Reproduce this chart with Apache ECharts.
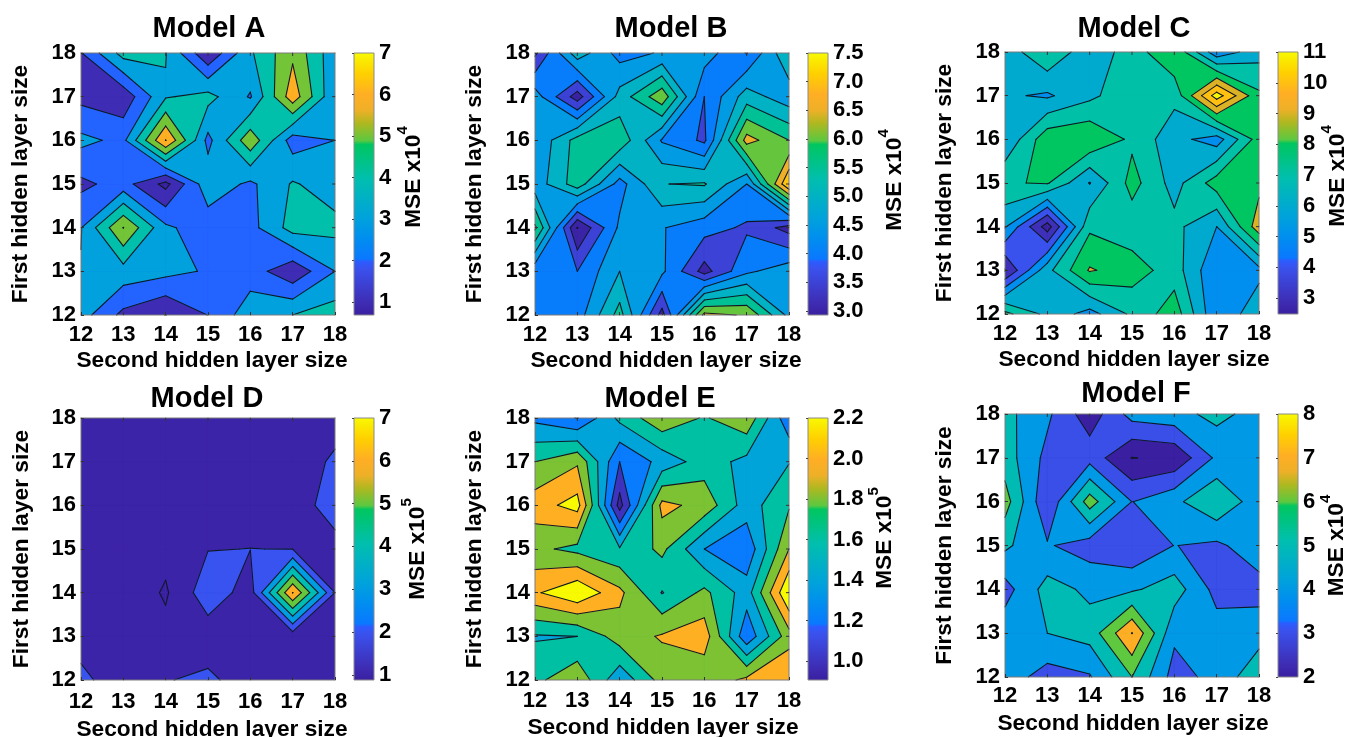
<!DOCTYPE html>
<html>
<head>
<meta charset="utf-8">
<style>html,body{margin:0;padding:0;background:#fff}#chart{width:1349px;height:737px}</style>
<script src="https://cdn.jsdelivr.net/npm/echarts@6/dist/echarts.min.js"></script>
</head>
<body>
<div id="chart"></div>
<script>
// Hidden layer sizes, grid axes of every panel
const sizes = [12, 13, 14, 15, 16, 17, 18];

// MSE values: rows top-down (first layer 18..12), columns second layer 12..18
const modelA = [
  [1.95, 4.4, 4.05, 1.1, 3.85, 5.8, 3.3],
  [1.7, 1.3, 3.9, 4.35, 2.9, 6.6, 3.1],
  [3.25, 2.75, 7.02, 2.7, 5.7, 2.5, 3.0],
  [1.77, 2.4, 0.7, 3.65, 2.8, 4.1, 3.5],
  [2.95, 6.02, 3.2, 2.4, 2.65, 4.4, 4.3],
  [3.05, 3.6, 3.3, 2.9, 2.5, 1.25, 3.0],
  [3.43, 1.73, 0.98, 2.02, 3.6, 4.0, 4.5]
];
const modelB = [
  [3.4, 5.3, 4.3, 4.55, 4.75, 3.97, 5.45],
  [4.75, 3.25, 5.2, 6.35, 4.0, 5.25, 4.7],
  [4.55, 5.7, 5.85, 4.45, 3.9, 6.7, 6.0],
  [4.7, 5.77, 4.3, 5.49, 5.55, 4.5, 7.5],
  [6.1, 2.98, 4.6, 4.53, 4.2, 3.92, 3.3],
  [4.15, 4.0, 5.0, 4.6, 3.3, 4.4, 4.8],
  [4.2, 4.25, 5.7, 3.3, 6.65, 6.45, 4.85]
];
const modelC = [
  [6.4, 7.9, 6.3, 7.5, 8.9, 5.3, 6.6],
  [6.15, 5.85, 6.75, 7.75, 7.3, 11.5, 8.2],
  [6.1, 8.7, 8.9, 7.8, 6.35, 5.5, 8.5],
  [7.9, 8.1, 5.95, 8.38, 6.6, 8.5, 8.7],
  [6.1, 2.5, 7.8, 7.4, 7.3, 6.0, 9.6],
  [2.9, 6.7, 9.1, 8.5, 7.5, 5.1, 5.7],
  [8.3, 6.7, 5.6, 7.2, 8.6, 5.1, 6.7]
];
const modelD = [
  [1.3, 1.3, 1.4, 1.2, 1.3, 1.3, 1.5],
  [1.4, 1.2, 1.3, 1.3, 1.2, 1.3, 2.2],
  [1.3, 1.4, 1.2, 1.3, 1.5, 1.5, 2.45],
  [1.2, 1.3, 1.3, 1.97, 2.01, 1.98, 1.65],
  [1.3, 1.7, 0.88, 2.6, 1.55, 7.02, 2.0],
  [1.5, 1.4, 1.3, 1.45, 1.4, 1.4, 1.6],
  [2.3, 1.3, 1.95, 2.2, 1.5, 1.3, 1.4]
];
const modelE = [
  [1.35, 1.19, 1.65, 1.95, 1.78, 1.95, 1.25],
  [1.8, 1.97, 1.2, 1.47, 1.7, 1.54, 1.59],
  [2.11, 2.28, 0.92, 2.06, 1.93, 1.5, 1.78],
  [1.85, 1.74, 1.62, 1.85, 1.4, 1.25, 2.0],
  [2.17, 2.38, 2.05, 1.59, 1.85, 1.5, 2.4],
  [1.58, 1.6, 1.9, 2.02, 2.11, 1.25, 1.92],
  [1.75, 1.95, 1.45, 1.88, 1.85, 2.05, 2.19]
];
const modelF = [
  [5.3, 4.2, 2.4, 4.4, 4.65, 5.3, 4.6],
  [5.5, 3.7, 3.6, 1.97, 2.2, 4.2, 4.4],
  [6.45, 3.1, 6.5, 3.98, 4.75, 5.9, 4.4],
  [5.2, 4.1, 3.5, 3.1, 4.02, 3.8, 4.6],
  [3.6, 5.4, 4.8, 4.85, 5.5, 3.65, 3.6],
  [4.6, 5.0, 5.4, 8.02, 4.2, 4.45, 4.6],
  [4.55, 3.55, 3.9, 6.0, 3.6, 4.33, 5.7]
];

// Contour levels / colour-bar tick labels of every panel
const levelsA = [1, 2, 3, 4, 5, 6, 7];
const levelsB = [3, 3.5, 4, 4.5, 5, 5.5, 6, 6.5, 7, 7.5];
const levelsC = [3, 4, 5, 6, 7, 8, 9, 10, 11];
const levelsD = [1, 2, 3, 4, 5, 6, 7];
const levelsE = [1, 1.2, 1.4, 1.6, 1.8, 2, 2.2];
const levelsF = [2, 3, 4, 5, 6, 7, 8];

// Colour map as [position, colour]
const colormap = [
  [0, '#3a1fa0'], [0.05, '#3e2db4'], [0.18, '#3a52ee'], [0.205, '#2c5cff'], [0.215, '#0a78ff'],
  [0.30, '#0090ee'], [0.37, '#00a2dc'], [0.52, '#00bfae'], [0.65, '#00c660'], [0.665, '#5cc840'],
  [0.73, '#aeb820'], [0.78, '#eeb028'], [0.84, '#ffae24'], [0.92, '#ffd000'], [1, '#f8fa00']
];

const panels = [
  {title: 'Model A', z: modelA, levels: levelsA, cmin: 0.69, cmax: 7, exp: '4', dec: 0,
   x: 81, y: 53, h: 262, barX: 354, tx: 209, ty: 29, xnGap: 34, xnShift: 8, xMargin: 9, ynGap: 49, mGap: 21, mShift: 14},
  {title: 'Model B', z: modelB, levels: levelsB, cmin: 2.93, cmax: 7.5, exp: '4', dec: 1,
   x: 535, y: 53, h: 262, barX: 808, tx: 671, ty: 29, xnGap: 34, xnShift: 8, xMargin: 9, ynGap: 49, mGap: 48, mShift: 8},
  {title: 'Model C', z: modelC, levels: levelsC, cmin: 2.48, cmax: 11, exp: '4', dec: 0,
   x: 1005, y: 52, h: 262, barX: 1278, tx: 1134, ty: 29, xnGap: 34, xnShift: 4, xMargin: 9, ynGap: 49, mGap: 21, mShift: 14},
  {title: 'Model D', z: modelD, levels: levelsD, cmin: 0.88, cmax: 7, exp: '5', dec: 0,
   x: 81, y: 418, h: 262, barX: 354, tx: 207, ty: 399, xnGap: 38, xnShift: 8, xMargin: 11, ynGap: 48, mGap: 25, mShift: 0},
  {title: 'Model E', z: modelE, levels: levelsE, cmin: 0.906, cmax: 2.2, exp: '5', dec: 1,
   x: 535, y: 418, h: 262, barX: 808, tx: 660, ty: 399, xnGap: 36, xnShift: 2, xMargin: 10, ynGap: 49, mGap: 38, mShift: 22},
  {title: 'Model F', z: modelF, levels: levelsF, cmin: 2, cmax: 8, exp: '4', dec: 0,
   x: 1005, y: 414, h: 263, barX: 1278, tx: 1136, ty: 394, xnGap: 35, xnShift: 2, xMargin: 8, ynGap: 49, mGap: 20, mShift: 0}
];

const FONT = '"Liberation Sans", Arial, sans-serif';
const PW = 254, BW = 20;

function hex(c) { return [1, 3, 5].map(i => parseInt(c.substr(i, 2), 16)); }
function cmap(t) {
  t = Math.max(0, Math.min(1, t));
  for (let i = 1; i < colormap.length; i++) {
    if (t <= colormap[i][0]) {
      const [a, ca] = colormap[i - 1], [b, cb] = colormap[i];
      const f = (t - a) / (b - a), A = hex(ca), B = hex(cb);
      return 'rgb(' + A.map((v, k) => Math.round(v + (B[k] - v) * f)).join(',') + ')';
    }
  }
  return colormap[colormap.length - 1][1];
}

// Cut a grid cell at level L; saddles are resolved with the cell-centre mean
function cutCell(zz, i, j, L) {
  const c = [[i, j], [i + 1, j], [i + 1, j + 1], [i, j + 1]];
  const v = c.map(p => zz[18 - p[1]][p[0] - 12]);
  const hi = v.map(x => x >= L);
  const q = [0, 1, 2, 3].map(k => {
    const m = (k + 1) % 4;
    if (hi[k] === hi[m]) return null;
    const f = (L - v[k]) / (v[m] - v[k]);
    return [c[k][0] + (c[m][0] - c[k][0]) * f, c[k][1] + (c[m][1] - c[k][1]) * f];
  });
  const polys = [], segs = [];
  const saddle = hi[0] === hi[2] && hi[1] === hi[3] && hi[0] !== hi[1];
  if (saddle && (v[0] + v[1] + v[2] + v[3]) / 4 < L) {
    [0, 1, 2, 3].filter(k => hi[k]).forEach(k => {
      const a = q[(k + 3) % 4], b = q[k];
      polys.push([a, c[k], b]);
      segs.push([a, b]);
    });
    return {polys, segs};
  }
  const poly = [];
  const seq = [];
  for (let k = 0; k < 4; k++) {
    if (hi[k]) poly.push(c[k]);
    if (q[k]) { poly.push(q[k]); seq.push({p: q[k], down: hi[k]}); }
  }
  if (poly.length >= 3) polys.push(poly);
  seq.forEach((s, k) => { if (s.down) segs.push([s.p, seq[(k + 1) % seq.length].p]); });
  return {polys, segs};
}

const cells = [];
for (let j = 12; j < 18; j++) for (let i = 12; i < 18; i++) cells.push([i, j]);

const grid = [], xAxis = [], yAxis = [], series = [], title = [];

panels.forEach((P, n) => {
  const gi = n * 2, bi = gi + 1;
  const norm = v => (v - P.cmin) / (P.cmax - P.cmin);
  title.push({text: P.title, left: P.tx, top: P.ty, padding: 0, textAlign: 'center', textVerticalAlign: 'middle',
    textStyle: {fontFamily: FONT, fontWeight: 'bold', fontSize: 29, color: '#000'}});
  grid.push({left: P.x, top: P.y, width: PW, height: P.h, show: false, outerBoundsMode: 'none'});
  grid.push({left: P.barX, top: P.y, width: BW, height: P.h, show: false, outerBoundsMode: 'none'});
  const tick = {show: true, inside: true, length: 3, lineStyle: {color: '#333', width: 1}};
  const label = {color: '#000', fontFamily: FONT, fontWeight: 'bold', fontSize: 22};
  const nameStyle = {color: '#000', fontFamily: FONT, fontWeight: 'bold', fontSize: 22.7};
  xAxis.push({gridIndex: gi, type: 'value', min: sizes[0], max: sizes[6], interval: 1, z: 6,
    name: 'Second hidden layer size', nameLocation: 'middle', nameGap: P.xnGap, nameMoveOverlap: false,
    nameTextStyle: Object.assign({padding: [0, 0, 0, P.xnShift]}, nameStyle),
    axisLine: {show: false}, axisTick: tick, splitLine: {show: false},
    axisLabel: Object.assign({margin: P.xMargin}, label)});
  yAxis.push({gridIndex: gi, type: 'value', min: sizes[0], max: sizes[6], interval: 1, z: 6,
    name: 'First hidden layer size', nameLocation: 'middle', nameGap: P.ynGap, nameRotate: 90, nameMoveOverlap: false,
    nameTextStyle: nameStyle,
    axisLine: {show: false}, axisTick: tick, splitLine: {show: false},
    axisLabel: Object.assign({margin: 5}, label)});
  xAxis.push({gridIndex: bi, type: 'value', min: 0, max: 1, show: false});
  yAxis.push({gridIndex: bi, type: 'value', position: 'right', min: P.cmin, max: P.cmax, z: 6,
    name: '{a|MSE x10}{b|' + P.exp + '}', nameLocation: 'middle', nameGap: P.mGap, nameRotate: 90, nameMoveOverlap: false,
    nameTextStyle: {padding: [0, 0, 0, P.mShift], rich: {
      a: {fontFamily: FONT, fontWeight: 'bold', fontSize: 22.7, color: '#000', lineHeight: 30, verticalAlign: 'bottom'},
      b: {fontFamily: FONT, fontWeight: 'bold', fontSize: 15, color: '#000', lineHeight: 30, verticalAlign: 'top'}
    }},
    axisLine: {show: false}, splitLine: {show: false},
    axisTick: {show: true, inside: true, length: 2, lineStyle: {color: '#444'}, customValues: P.levels},
    axisLabel: Object.assign({margin: 5, customValues: P.levels,
      formatter: v => Number(v).toFixed(P.dec)}, label)});

  // filled bands: one item per cell and level, lowest level first so that higher bands cover seams
  const bandItems = [];
  for (let k = -1; k < P.levels.length; k++) cells.forEach(c => bandItems.push([c[0], c[1], k]));
  series.push({type: 'custom', xAxisIndex: gi, yAxisIndex: gi, coordinateSystem: 'cartesian2d',
    silent: true, animation: false, z: 2, clip: true, data: bandItems, encode: {x: 0, y: 1},
    renderItem: (params, api) => {
      const i = api.value(0), j = api.value(1), k = api.value(2);
      const polys = k < 0 ? [[[i, j], [i + 1, j], [i + 1, j + 1], [i, j + 1]]] : cutCell(P.z, i, j, P.levels[k]).polys;
      const fill = k < 0 ? cmap(0) : cmap(norm(P.levels[k]));
      return {type: 'group', children: polys.map(poly => ({type: 'polygon', shape: {points: poly.map(q => api.coord(q))},
        style: {fill: fill, stroke: fill, lineWidth: 0.7}}))};
    }});
  // contour lines, frame and the ticks of the far sides
  series.push({type: 'custom', xAxisIndex: gi, yAxisIndex: gi, coordinateSystem: 'cartesian2d',
    silent: true, animation: false, z: 3, clip: false, data: cells, encode: {x: 0, y: 1},
    renderItem: (params, api) => {
      const i = api.value(0), j = api.value(1);
      const children = [];
      const seg = (a, b, color, w) => {
        const A = api.coord(a), B = api.coord(b);
        children.push({type: 'line', shape: {x1: A[0], y1: A[1], x2: B[0], y2: B[1]},
          style: {stroke: color, lineWidth: w, lineCap: 'round'}});
      };
      const tickAt = (p, dx, dy) => {
        const A = api.coord(p);
        children.push({type: 'line', shape: {x1: A[0], y1: A[1], x2: A[0] + dx, y2: A[1] + dy},
          style: {stroke: '#333', lineWidth: 1}});
      };
      P.levels.forEach(L => {
        cutCell(P.z, i, j, L).segs.forEach(s => seg(s[0], s[1], '#101828', 1.1));
      });
      if (i === 12) seg([i, j], [i, j + 1], '#7a7a7a', 1);
      if (i === 17) { seg([i + 1, j], [i + 1, j + 1], '#7a7a7a', 1); if (j > 12) tickAt([i + 1, j], -3, 0); }
      if (j === 12) seg([i, j], [i + 1, j], '#7a7a7a', 1);
      if (j === 17) { seg([i, j + 1], [i + 1, j + 1], '#7a7a7a', 1); if (i > 12) tickAt([i, j + 1], 0, 3); }
      return {type: 'group', children: children};
    }});
  // colour bar
  const stops = colormap.map(s => ({offset: s[0], color: s[1]}));
  series.push({type: 'custom', xAxisIndex: bi, yAxisIndex: bi, coordinateSystem: 'cartesian2d',
    silent: true, animation: false, z: 2, clip: false, data: [[0, P.cmin, 1, P.cmax]], encode: {x: [0, 2], y: [1, 3]},
    renderItem: (params, api) => {
      const a = api.coord([api.value(0), api.value(1)]), b = api.coord([api.value(2), api.value(3)]);
      return {type: 'rect', shape: {x: a[0], y: b[1], width: b[0] - a[0], height: a[1] - b[1]},
        style: {fill: new echarts.graphic.LinearGradient(0, 1, 0, 0, stops), stroke: '#8a8a8a', lineWidth: 1}};
    }});
});

const chart = echarts.init(document.getElementById('chart'), null, {renderer: 'canvas'});
chart.setOption({animation: false, backgroundColor: '#fff', title, grid, xAxis, yAxis, series});
</script>
</body>
</html>
